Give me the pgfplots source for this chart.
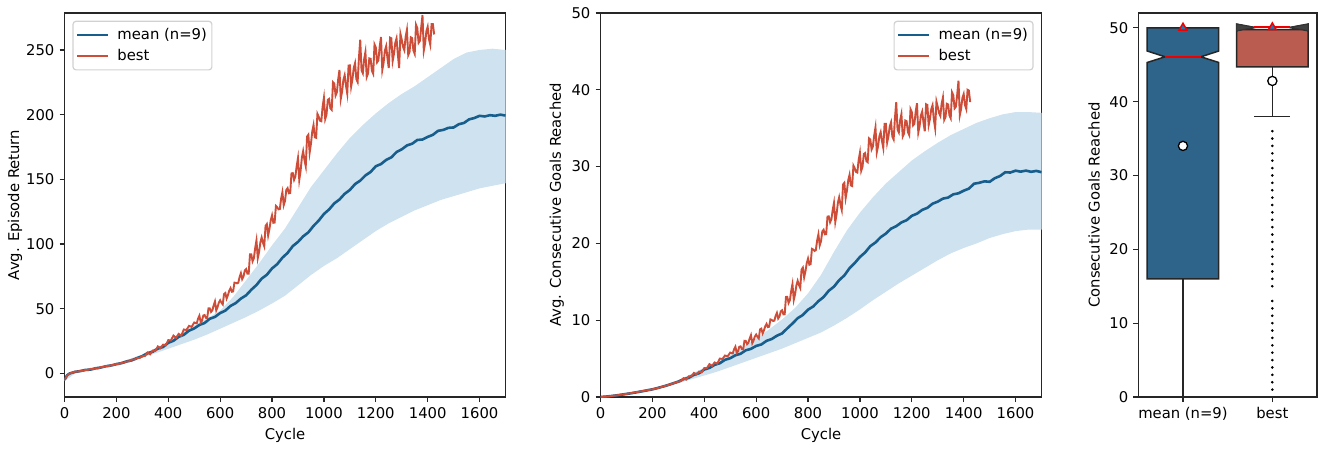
\documentclass[border=0pt]{standalone}
\usepackage{fontspec}
\setmainfont{DejaVu Sans}
\usepackage{pgfplots}
\pgfplotsset{compat=1.18}
\usepgfplotslibrary{fillbetween}
\definecolor{lineblue}{RGB}{24,94,140}
\definecolor{linered}{RGB}{205,77,56}
\definecolor{bandblue}{RGB}{207,226,240}
\definecolor{boxblue}{RGB}{47,100,138}
\definecolor{boxred}{RGB}{187,92,80}
\definecolor{markblue}{RGB}{31,119,180}
\definecolor{medred}{RGB}{238,0,0}
\newcommand{\f}{\fontsize{14.8}{17.8}\selectfont}
\pgfplotsset{
  legend image code/.code={\draw[#1, line width=2.2pt] (0pt,0pt) -- (31pt,0pt); \path (37pt,0pt);},
  every axis/.append style={
    scale only axis,
    axis line style={line width=1.2pt, black!85},
    tick align=outside, tick pos=left,
    major tick length=5pt,
    major tick style={line width=1.2pt, black!85},
    tick label style={font=\f},
    label style={font=\f},
    legend style={font=\f, draw=black!18, line width=1.2pt, rounded corners=3pt, inner xsep=3pt, inner ysep=5pt, row sep=3.7pt},
    legend cell align=left,
    /pgf/number format/assume math mode=true,
    /pgf/number format/1000 sep={},
  }
}
\begin{document}
\f
\begin{tikzpicture}
% ---------------- panel 1
\begin{axis}[at={(64.5pt,53pt)}, anchor=south west, width=441pt, height=384pt,
  xmin=0, xmax=1700, ymin=-18.3, ymax=278.6,
  xtick={0,200,...,1600}, ytick={0,50,...,250},
  xlabel={Cycle}, ylabel={Avg. Episode Return},
  xlabel style={at={(axis description cs:0.5,-0.099)}, anchor=center},
  ylabel style={at={(axis description cs:-0.112,0.5)}, anchor=center},
  legend style={at={(axis description cs:0.018,0.98)}, anchor=north west}]
\addplot[name path=U1, draw=none, forget plot] coordinates {(0,-4) (50,1.8) (100,3.4) (150,5.5) (200,7.7) (250,11.1) (300,14.5) (350,19.5) (400,24.5) (450,31) (500,37) (550,42.5) (600,48.5) (650,59) (700,72) (750,85) (800,99) (850,112) (900,128) (950,144) (1000,157) (1050,170) (1100,182) (1150,192) (1200,201) (1250,209) (1300,216) (1350,222) (1400,229) (1450,236) (1500,243) (1550,248) (1600,250) (1650,251) (1700,250)};
\addplot[name path=L1, draw=none, forget plot] coordinates {(0,-6) (50,1.2) (100,2.6) (150,4.5) (200,6.3) (250,8.9) (300,12.2) (350,15.5) (400,19) (450,22.5) (500,26) (550,30) (600,34.5) (650,39) (700,43.5) (750,48.5) (800,54) (850,60) (900,68) (950,76) (1000,83) (1050,89) (1100,96) (1150,103) (1200,110) (1250,116) (1300,121) (1350,126) (1400,130) (1450,134) (1500,137) (1550,140) (1600,143) (1650,145) (1700,147)};
\addplot[bandblue, forget plot] fill between[of=U1 and L1];
\addplot[lineblue, line width=2.6pt] coordinates {(0,-5) (10,-1.5) (20,-0.1) (40,1.1) (60,1.7) (80,2.6) (100,2.9) (120,3.9) (140,4.5) (160,5.5) (180,6.1) (200,7.1) (220,7.9) (240,9.2) (260,10.1) (280,11.8) (300,13.3) (320,15.6) (340,16.7) (360,19.1) (380,20.4) (400,23.6) (420,25.2) (440,28.2) (460,29.8) (480,33.0) (500,34.7) (520,37.4) (540,38.9) (560,42.2) (580,43.6) (600,46.6) (620,48.5) (640,52.1) (660,54.3) (680,57.8) (700,60.3) (720,64.6) (740,68.3) (760,73.2) (780,76.2) (800,81.1) (820,84.4) (840,89.4) (860,93.1) (880,98.4) (900,101.6) (920,105.9) (940,109.0) (960,114.0) (980,118.1) (1000,123.2) (1020,126.7) (1040,131.4) (1060,134.4) (1080,138.8) (1100,141.8) (1120,146.3) (1140,149.0) (1160,153.0) (1180,155.7) (1200,160.1) (1220,161.8) (1240,165.0) (1260,167.0) (1280,171.1) (1300,173.2) (1320,176.2) (1340,177.5) (1360,180.4) (1380,180.8) (1400,182.8) (1420,184.4) (1440,187.5) (1460,188.2) (1480,189.8) (1500,190.1) (1520,192.6) (1540,193.6) (1560,196.4) (1580,197.4) (1600,199.1) (1620,198.6) (1640,199.6) (1660,199.1) (1680,200.0) (1700,199.3)};
\addlegendentry{mean (n=9)}
\addplot[linered, line width=1.9pt] coordinates {(0,-5) (10,-1.8) (20,-0.1) (30,0.4) (40,1.3) (50,1.3) (60,1.9) (70,1.8) (80,2.6) (90,2.6) (100,3.4) (110,3.2) (120,4.0) (130,3.8) (140,4.9) (150,4.9) (160,5.6) (170,5.5) (180,6.3) (190,6.5) (200,7.3) (210,7.3) (220,8.1) (230,8.2) (240,9.2) (250,9.4) (260,10.6) (270,10.7) (280,11.8) (290,11.9) (300,13.3) (310,13.4) (320,16.1) (330,14.7) (340,17.6) (350,17.3) (360,20.8) (370,19.4) (380,22.2) (390,21.6) (400,25.7) (410,25.4) (420,29.2) (430,27.4) (440,30.5) (450,29.1) (460,33.9) (470,33.5) (480,36.7) (490,35.9)
(500,39.3) (505,38.9) (510,38.7) (515,42.4) (520,44.6) (525,39.4) (530,40.7) (535,44.7) (540,45.1) (545,42.9) (550,42.7) (555,50.2) (560,50.2) (565,47.5) (570,48.7) (575,52.6) (580,55.6) (585,48.7) (590,51.1) (595,54.7) (600,56.5) (605,54.6) (610,53.3) (615,61.3) (620,62.1) (625,57.8) (630,60.4) (635,63.9) (640,65.9) (645,63.1) (650,63.3) (655,70.1) (660,70.0) (665,69.6) (670,70.1) (675,74.5) (680,77.4) (685,72.8) (690,74.8) (695,79.5) (700,80.6) (705,77.0) (710,77.0) (715,92.0) (720,92.0) (725,86.6) (730,89.0) (735,96.8) (740,102.8) (745,89.0) (750,93.8) (755,101.2) (760,105) (765,101) (770,98.2) (775,114) (780,115.4) (785,106.6) (790,111.6) (795,118.4) (800,122.2) (805,116.4) (810,116.6) (815,129.4) (820,128.4) (825,126.8) (830,127) (835,135) (840,140) (845,130) (850,133.2) (855,141.8) (860,143.2) (865,139.2) (870,139.4) (875,154.6) (880,154.8) (885,149.6) (890,152.2) (895,160.2) (900,166.4) (905,149.5) (910,156.3) (915,166.7) (920,171.7) (925,165) (930,160.1) (935,183.1) (940,184.5) (945,170.6) (950,177.4) (955,186.9) (960,191.9) (965,182.5) (970,182.1) (975,200.6) (980,198.4) (985,195.3) (990,194.9) (995,206.2) (1000,213) (1005,196.6) (1010,200) (1015,211.5) (1020,212.2) (1025,204.8) (1030,203.7) (1035,225.1) (1040,224) (1045,214.8) (1050,217.3) (1055,227.3) (1060,234.6) (1065,212.2) (1070,217.7) (1075,226.8) (1080,230.5) (1085,222.5) (1090,216.3) (1095,238) (1100,238.1) (1105,221.7) (1110,227.4) (1115,236.1) (1120,239.8) (1125,227.5) (1130,225.2) (1135,243.9) (1140,258) (1145,234.3) (1150,232) (1155,242.7) (1160,248.4) (1165,229.1) (1170,231.8) (1175,243.5) (1180,243.2) (1185,233.9) (1190,231.6) (1195,254.3) (1200,252) (1205,240.5) (1210,242) (1215,252.5) (1220,260) (1225,234.5) (1230,240) (1235,249.5) (1240,253) (1245,243.5) (1250,236) (1255,259.5) (1260,259) (1265,241.5) (1270,247) (1275,255.5) (1280,259) (1285,246.5) (1290,236) (1295,262.5) (1300,258) (1305,252.4) (1310,249.8) (1315,260.2) (1320,265.6) (1325,246) (1330,248.4) (1335,259.8) (1340,259.2) (1345,249.6) (1350,247) (1355,269.5) (1360,267) (1365,255.5) (1370,257) (1375,267.5) (1380,277) (1385,249.5) (1390,255) (1395,264.5) (1400,268) (1405,258.3) (1410,254) (1415,270) (1420,270) (1425,262)};
\addlegendentry{best}
\end{axis}
% ---------------- panel 2
\begin{axis}[at={(600.5pt,53pt)}, anchor=south west, width=441pt, height=384pt,
  xmin=0, xmax=1700, ymin=0, ymax=50,
  xtick={0,200,...,1600}, ytick={0,10,...,50},
  xlabel={Cycle}, ylabel={Avg. Consecutive Goals Reached},
  xlabel style={at={(axis description cs:0.5,-0.099)}, anchor=center},
  ylabel style={at={(axis description cs:-0.099,0.5)}, anchor=center},
  legend style={at={(axis description cs:0.982,0.98)}, anchor=north east}]
\addplot[name path=U2, draw=none, forget plot] coordinates {(0,0) (50,0.2) (100,0.45) (150,0.8) (200,1.1) (250,1.6) (300,2.2) (350,3.0) (400,3.8) (450,4.6) (500,5.5) (550,6.5) (600,7.6) (650,8.8) (700,10.1) (750,11.6) (800,13.5) (850,15.9) (900,18.9) (950,21.7) (1000,24.0) (1050,26) (1100,27.8) (1150,29.3) (1200,30.8) (1250,32.0) (1300,33.1) (1350,34.1) (1400,34.9) (1450,35.7) (1500,36.3) (1550,36.8) (1600,37.1) (1650,37.1) (1700,37.0)};
\addplot[name path=L2, draw=none, forget plot] coordinates {(0,0) (50,0.1) (100,0.35) (150,0.6) (200,0.9) (250,1.3) (300,1.8) (350,2.3) (400,2.8) (450,3.3) (500,3.9) (550,4.5) (600,5.1) (650,5.7) (700,6.3) (750,7.0) (800,7.7) (850,8.4) (900,9.3) (950,10.3) (1000,11.4) (1050,12.6) (1100,13.7) (1150,14.8) (1200,15.8) (1250,16.8) (1300,17.8) (1350,18.7) (1400,19.4) (1450,20.0) (1500,20.7) (1550,21.2) (1600,21.6) (1650,21.8) (1700,21.8)};
\addplot[bandblue, forget plot] fill between[of=U2 and L2];
\addplot[lineblue, line width=2.6pt] coordinates {(0,0) (20,0.05) (40,0.12) (60,0.2) (80,0.3) (100,0.4) (120,0.5) (140,0.62) (160,0.74) (180,0.87) (200,1.0) (220,1.17) (240,1.35) (260,1.55) (280,1.77) (300,2.0) (320,2.33) (340,2.5) (360,2.88) (380,3.1) (400,3.58) (420,3.79) (440,4.19) (460,4.4) (480,4.84) (500,5.05) (520,5.43) (540,5.63) (560,6.08) (580,6.27) (600,6.65) (620,6.84) (640,7.31) (660,7.55) (680,7.98) (700,8.28) (720,8.94) (740,9.57) (760,10.26) (780,10.68) (800,11.37) (820,11.79) (840,12.48) (860,13.02) (880,13.84) (900,14.37) (920,15.21) (940,15.83) (960,16.77) (980,17.44) (1000,18.23) (1020,18.82) (1040,19.64) (1060,20.12) (1080,20.81) (1100,21.28) (1120,21.92) (1140,22.24) (1160,22.73) (1180,23.02) (1200,23.59) (1220,23.87) (1240,24.36) (1260,24.63) (1280,25.17) (1300,25.44) (1320,25.83) (1340,25.97) (1360,26.39) (1380,26.52) (1400,26.86) (1420,27.13) (1440,27.77) (1460,27.89) (1480,28.08) (1500,28.02) (1520,28.49) (1540,28.77) (1560,29.26) (1580,29.23) (1600,29.47) (1620,29.34) (1640,29.48) (1660,29.32) (1680,29.44) (1700,29.27)};
\addlegendentry{mean (n=9)}
\addplot[linered, line width=1.9pt] coordinates {(0,0) (10,0.02) (20,0.05) (30,0.08) (40,0.12) (50,0.16) (60,0.2) (70,0.25) (80,0.3) (90,0.35) (100,0.4) (110,0.46) (120,0.52) (130,0.58) (140,0.64) (150,0.7) (160,0.76) (170,0.82) (180,0.88) (190,0.94) (200,1.0) (210,1.08) (220,1.16) (230,1.25) (240,1.35) (250,1.45) (260,1.55) (270,1.66) (280,1.77) (290,1.88) (300,2.0) (310,2.07) (320,2.44) (330,2.27) (340,2.68) (350,2.67) (360,3.13) (370,2.94) (380,3.31) (390,3.21) (400,3.76) (410,3.74) (420,4.28) (430,4.06) (440,4.5) (450,4.34) (460,5.0) (470,4.96) (480,5.4) (490,5.3)
(500,5.78) (505,5.71) (510,5.68) (515,6.23) (520,6.55) (525,5.75) (530,5.94) (535,6.54) (540,6.59) (545,6.24) (550,6.2) (555,7.32) (560,7.3) (565,6.88) (570,7.05) (575,7.62) (580,8.05) (585,7.0) (590,7.35) (595,7.87) (600,8.13) (605,7.83) (610,7.62) (615,8.8) (620,8.9) (625,8.27) (630,8.67) (635,9.2) (640,9.52) (645,9.1) (650,9.15) (655,10.1) (660,10.03) (665,9.91) (670,9.93) (675,10.55) (680,10.95) (685,10.22) (690,10.49) (695,11.16) (700,11.29) (705,10.76) (710,10.77) (715,13.03) (720,13.04) (725,12.24) (730,12.61) (735,13.79) (740,14.7) (745,12.64) (750,13.37) (755,14.52) (760,15.13) (765,14.57) (770,14.19) (775,16.6) (780,16.85) (785,15.57) (790,16.36) (795,17.42) (800,18.03) (805,17.22) (810,17.31) (815,19.29) (820,19.2) (825,19.02) (830,19.11) (835,20.37) (840,21.18) (845,19.74) (850,20.28) (855,21.57) (860,21.78) (865,21.18) (870,21.21) (875,23.49) (880,23.52) (885,22.74) (890,23.13) (895,24.33) (900,25.26) (905,22.78) (910,23.77) (915,25.28) (920,26.01) (925,25.05) (930,24.35) (935,27.68) (940,27.89) (945,25.89) (950,26.88) (955,28.23) (960,28.93) (965,27.55) (970,27.47) (975,30.12) (980,29.78) (985,29.31) (990,29.23) (995,30.84) (1000,31.8) (1005,29.45) (1010,29.96) (1015,31.64) (1020,31.76) (1025,30.71) (1030,30.57) (1035,33.68) (1040,33.54) (1045,32.23) (1050,32.61) (1055,34.05) (1060,35.1) (1065,31.86) (1070,32.65) (1075,33.96) (1080,34.49) (1085,33.33) (1090,32.43) (1095,35.56) (1100,35.57) (1105,33.13) (1110,33.96) (1115,35.24) (1120,35.77) (1125,33.9) (1130,33.53) (1135,36.31) (1140,38.4) (1145,34.82) (1150,34.45) (1155,36.02) (1160,36.84) (1165,33.91) (1170,34.28) (1175,36.0) (1180,35.92) (1185,34.49) (1190,34.11) (1195,37.48) (1200,37.1) (1205,35.37) (1210,35.58) (1215,37.15) (1220,38.26) (1225,34.43) (1230,35.24) (1235,36.66) (1240,37.17) (1245,35.74) (1250,34.6) (1255,38.12) (1260,38.03) (1265,35.4) (1270,36.21) (1275,37.48) (1280,37.99) (1285,36.1) (1290,35.0) (1295,38.48) (1300,37.8) (1305,36.98) (1310,36.6) (1315,38.18) (1320,39.0) (1325,36.08) (1330,36.45) (1335,38.18) (1340,38.1) (1345,36.68) (1350,36.3) (1355,39.68) (1360,39.3) (1365,37.58) (1370,37.8) (1375,39.38) (1380,41.2) (1385,36.68) (1390,37.5) (1395,38.93) (1400,39.45) (1405,38.03) (1410,37.5) (1415,40.0) (1420,39.9) (1425,38.4)};
\addlegendentry{best}
\end{axis}
% ---------------- panel 3
\begin{axis}[at={(1138.3pt,53pt)}, anchor=south west, width=178.7pt, height=384pt,
  xmin=-0.5, xmax=1.5, ymin=0, ymax=52,
  xtick={0,1}, xticklabels={mean (n=9), best}, ytick={0,10,...,50},
  ylabel={Consecutive Goals Reached},
  ylabel style={at={(axis description cs:-0.248,0.5)}, anchor=center}]
\addplot[only marks, mark=*, mark size=1.1pt, black] coordinates {(1,1) (1,2) (1,3) (1,4) (1,5) (1,6) (1,7) (1,8) (1,9) (1,10) (1,11) (1,12) (1,13) (1,15) (1,16) (1,17) (1,18) (1,19) (1,20) (1,21) (1,22) (1,23) (1,24) (1,25) (1,26) (1,27) (1,28) (1,29) (1,30) (1,31) (1,32) (1,33) (1,34) (1,35) (1,36)};
\addplot[black!85, line width=1.5pt] coordinates {(0,16) (0,0)};
\addplot[black!85, line width=1.5pt] coordinates {(-0.2,0) (0.2,0)};
\addplot[black!85, line width=1.5pt] coordinates {(1,44.7) (1,38)};
\addplot[black!85, line width=1.5pt] coordinates {(0.8,38) (1.2,38)};
\addplot[draw=black!85, line width=1.5pt, fill=boxblue] coordinates {(-0.4,16) (-0.4,45.3) (-0.2,46.07) (-0.4,46.85) (-0.4,50) (0.4,50) (0.4,46.85) (0.2,46.07) (0.4,45.3) (0.4,16)} -- cycle;
\addplot[draw=black!85, line width=1.5pt, fill=boxred] coordinates {(0.6,44.7) (0.6,49.6) (0.8,50.05) (0.6,50.5) (0.6,49.75) (1.4,49.75) (1.4,50.5) (1.2,50.05) (1.4,49.6) (1.4,44.7)} -- cycle;
\addplot[draw=black!80, line width=1pt, fill=black!75] coordinates {(0.6,49.6) (0.8,50.05) (0.6,50.5)} -- cycle;
\addplot[draw=black!80, line width=1pt, fill=black!75] coordinates {(1.4,49.6) (1.2,50.05) (1.4,50.5)} -- cycle;
\addplot[medred, line width=2pt] coordinates {(-0.2,46.07) (0.2,46.07)};
\addplot[medred, line width=2pt] coordinates {(0.8,50.05) (1.2,50.05)};
\addplot[only marks, mark=*, mark size=4.6pt, mark options={fill=white, draw=black, line width=1.3pt}] coordinates {(0,34) (1,42.8)};
\addplot[only marks, mark=triangle*, mark size=4.5pt, mark options={fill=markblue, draw=medred, line width=1.5pt}] coordinates {(0,50) (1,50.05)};
\end{axis}
\path (0,0) rectangle (1325pt,450pt);
\end{tikzpicture}
\end{document}
